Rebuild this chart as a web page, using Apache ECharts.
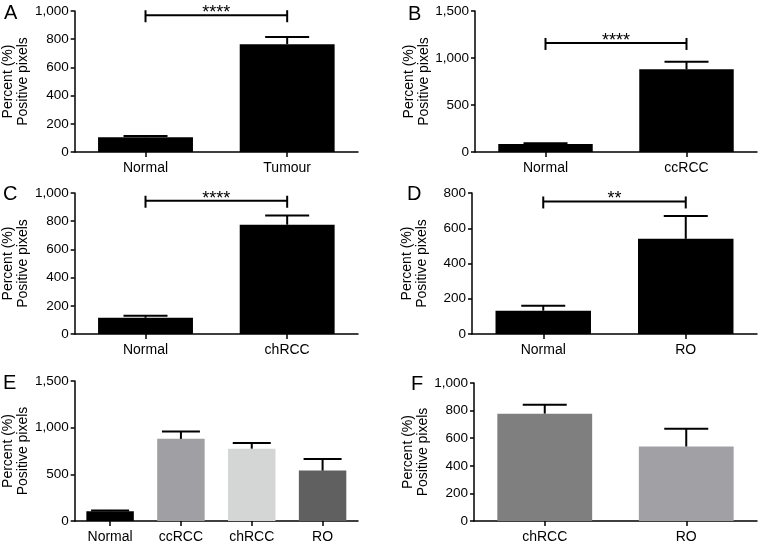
<!DOCTYPE html>
<html><head><meta charset="utf-8">
<script src="https://cdn.jsdelivr.net/npm/echarts@6/dist/echarts.min.js"></script>
<style>html,body{margin:0;padding:0;background:#fff}#c{width:760px;height:544px}</style>
</head><body><div id="c"></div>
<script>
// ---- data ----
const catsA = ['Normal', 'Tumour'];
const valsA = [105, 765];
const errA  = [8, 50];
const brA   = {from: 0, to: 1, y: 970, label: '****'};

const catsB = ['Normal', 'ccRCC'];
const valsB = [85, 880];
const errB  = [8, 80];
const brB   = {from: 0, to: 1, y: 1160, label: '****'};

const catsC = ['Normal', 'chRCC'];
const valsC = [115, 775];
const errC  = [15, 65];
const brC   = {from: 0, to: 1, y: 945, label: '****'};

const catsD = ['Normal', 'RO'];
const valsD = [132, 540];
const errD  = [28, 130];
const brD   = {from: 0, to: 1, y: 752, label: '**'};

const catsE = ['Normal', 'ccRCC', 'chRCC', 'RO'];
const valsE = [105, 880, 775, 540];
const errE  = [8, 80, 62, 125];

const catsF = ['chRCC', 'RO'];
const valsF = [778, 540];
const errF  = [65, 128];

const yTitle = 'Percent (%)\nPositive pixels';

// ---- styling / layout ----
const FONT = '"Liberation Sans", Arial, Helvetica, sans-serif';
const panels = [
  {letter:'A', cats:catsA, vals:valsA, errs:errA, br:brA, max:1000, interval:200,
   colors:['#000','#000'], grid:{left:72, top:11, width:286, height:141}, cap:44, lx:4, ly:3},
  {letter:'B', cats:catsB, vals:valsB, errs:errB, br:brB, max:1500, interval:500,
   colors:['#000','#000'], grid:{left:475, top:11, width:282, height:141}, cap:44, lx:408, ly:4},
  {letter:'C', cats:catsC, vals:valsC, errs:errC, br:brC, max:1000, interval:200,
   colors:['#000','#000'], grid:{left:72, top:193, width:286, height:141}, cap:44, lx:3, ly:184},
  {letter:'D', cats:catsD, vals:valsD, errs:errD, br:brD, max:800, interval:200,
   colors:['#000','#000'], grid:{left:472, top:193, width:285, height:141}, cap:44, lx:407, ly:184},
  {letter:'E', cats:catsE, vals:valsE, errs:errE, br:null, max:1500, interval:500,
   colors:['#000','#a0a0a4','#d4d6d5','#606060'], grid:{left:72, top:381, width:286, height:142}, cap:38, lx:3, ly:373},
  {letter:'F', cats:catsF, vals:valsF, errs:errF, br:null, max:1000, interval:200,
   colors:['#7f7f7f','#a1a1a5'], grid:{left:474, top:383, width:283, height:140}, cap:44, lx:411, ly:374}
];

const grids = [], xAxes = [], yAxes = [], series = [], graphics = [];

function errRender(capW) {
  return function (params, api) {
    const x = api.value(0), v = api.value(1), e = api.value(2);
    const p0 = api.coord([x, v]), p1 = api.coord([x, v + e]);
    return {type:'group', children:[
      {type:'line', shape:{x1:p0[0], y1:p0[1], x2:p1[0], y2:p1[1]}, style:{stroke:'#000', lineWidth:2}},
      {type:'line', shape:{x1:p1[0]-capW/2, y1:p1[1], x2:p1[0]+capW/2, y2:p1[1]}, style:{stroke:'#000', lineWidth:2}}
    ]};
  };
}
function brRender(label) {
  return function (params, api) {
    const a = api.coord([api.value(0), api.value(2)]);
    const b = api.coord([api.value(1), api.value(2)]);
    const y = a[1];
    return {type:'group', children:[
      {type:'line', shape:{x1:a[0], y1:y, x2:b[0], y2:y}, style:{stroke:'#000', lineWidth:2}},
      {type:'line', shape:{x1:a[0], y1:y-5, x2:a[0], y2:y+7}, style:{stroke:'#000', lineWidth:2}},
      {type:'line', shape:{x1:b[0], y1:y-5, x2:b[0], y2:y+7}, style:{stroke:'#000', lineWidth:2}},
      {type:'text', x:(a[0]+b[0])/2, y:y-2, style:{text:label, fill:'#000', font:'18px '+FONT, align:'center', verticalAlign:'middle'}}
    ]};
  };
}

panels.forEach((p, k) => {
  grids.push(Object.assign({containLabel:false}, p.grid));
  xAxes.push({
    type:'category', gridIndex:k, data:p.cats,
    axisLine:{show:true, lineStyle:{color:'#000', width:1.5}},
    axisTick:{show:true, alignWithLabel:true, length:5, lineStyle:{color:'#000', width:1.5}},
    axisLabel:{color:'#000', fontSize:14, fontFamily:FONT, margin:9},
    splitLine:{show:false}
  });
  yAxes.push({
    type:'value', gridIndex:k, min:0, max:p.max, interval:p.interval,
    axisLine:{show:true, lineStyle:{color:'#000', width:1.5}},
    axisTick:{show:true, length:4, lineStyle:{color:'#000', width:1.5}},
    axisLabel:{color:'#000', fontSize:13.5, fontFamily:FONT, margin:6,
      formatter: v => v.toLocaleString('en-US')},
    splitLine:{show:false},
    name: yTitle, nameLocation:'middle', nameGap:42, nameRotate:90,
    nameTextStyle:{color:'#000', fontSize:14, lineHeight:15, fontFamily:FONT}
  });
  series.push({
    type:'bar', xAxisIndex:k, yAxisIndex:k, barWidth:'67%',
    data: p.vals.map((v, i) => ({value:v, itemStyle:{color:p.colors[i]}})),
    silent:true, z:2
  });
  series.push({
    type:'custom', xAxisIndex:k, yAxisIndex:k, renderItem: errRender(p.cap),
    data: p.vals.map((v, i) => [i, v, p.errs[i]]),
    encode:{x:0, y:1}, clip:false, silent:true, z:3
  });
  if (p.br) {
    series.push({
      type:'custom', xAxisIndex:k, yAxisIndex:k, renderItem: brRender(p.br.label),
      data: [[p.br.from, p.br.to, p.br.y]],
      encode:{x:[0,1], y:2}, clip:false, silent:true, z:3
    });
  }
  graphics.push({type:'text', left:p.lx, top:p.ly,
    style:{text:p.letter, fill:'#000', font:'20px '+FONT}});
});

const chart = echarts.init(document.getElementById('c'), null, {renderer:'canvas'});
chart.setOption({
  animation:false, backgroundColor:'#fff',
  grid:grids, xAxis:xAxes, yAxis:yAxes, series:series, graphic:graphics
});
</script></body></html>
